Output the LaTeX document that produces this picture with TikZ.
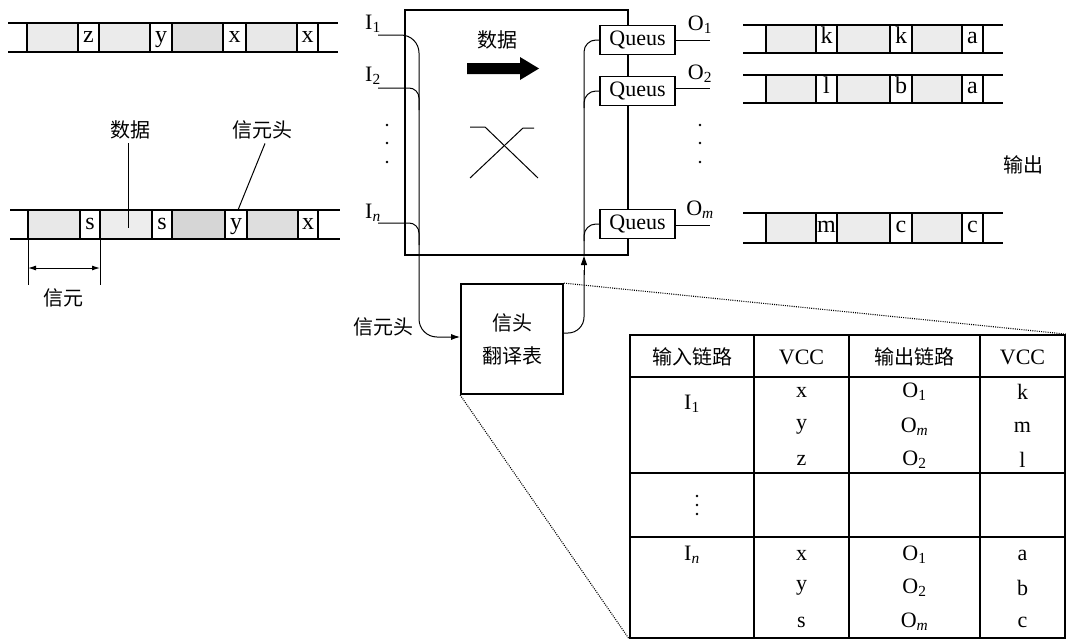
\documentclass[tikz,border=0pt]{standalone}
\usepackage{fontspec}
\setmainfont{Liberation Serif}
\newfontfamily\cjk{Noto Sans CJK SC}
\usetikzlibrary{arrows.meta}
\begin{document}
\begin{tikzpicture}[x=1pt,y=-1pt,
  every node/.style={inner sep=0pt, font=\fontsize{22}{26}\selectfont},
  rail/.style={line width=1.6pt},
  cellbox/.style={draw, line width=1.2pt},
  hcell/.style={cellbox, fill=white, minimum height=29pt, text height=13pt, text depth=4pt, font=\fontsize{24}{26}\selectfont},
  zh/.style={font=\cjk\fontsize{20}{24}\selectfont},
  conn/.style={line width=1pt},
  qbox/.style={draw, fill=white, line width=1.6pt, minimum width=75pt, minimum height=29pt},
  tline/.style={line width=1.5pt},
  dotline/.style={line width=1.1pt, dash pattern=on 1pt off 1.2pt},
  tip/.style={-{Latex[length=9pt,width=6pt]}}
]
\useasboundingbox (0,0) rectangle (1071,640);

% ---------- top-left strip ----------
\foreach \a/\b/\f in {27/78/gray!16,99/150/gray!16,172/223/gray!24,246/297/gray!18}
  \draw[cellbox, fill=\f] (\a,23) rectangle (\b,52);
\foreach \a/\b/\t [count=\i] in {78/99/z,150/172/y,223/246/x,297/318/x}
  \node[hcell, minimum width={(\b-\a)*1pt}] (tl\i) at ({(\a+\b)/2},37.5) {\t};
\draw[rail] (8,23) -- (338,23) (8,52) -- (338,52);

% ---------- bottom-left strip ----------
\foreach \a/\b/\f in {28/80/gray!18,100/152/gray!14,172/225/gray!32,247/298/gray!26}
  \draw[cellbox, fill=\f] (\a,210) rectangle (\b,239);
\foreach \a/\b/\t [count=\i] in {80/100/s,152/172/s,225/247/y,298/318/x}
  \node[hcell, minimum width={(\b-\a)*1pt}] (bl\i) at ({(\a+\b)/2},224.5) {\t};
\draw[rail] (10,210) -- (340,210) (10,239) -- (340,239);

\node[zh] (dlab) at (130,130) {数据};
\draw[conn] (dlab.south) ++(-2,4) coordinate (dtop) -- (128,228) coordinate (dend);
\node[zh] (hlab) at (262,130) {信元头};
\draw[conn] (hlab.south) ++(3,4) coordinate (htop) -- (238,210) coordinate (hend);

\coordinate (dimA) at (28,268);
\coordinate (dimB) at (100,268);
\draw[conn] (28,239) -- (28,285) (100,239) -- (100,285);
\draw[conn, {Latex[length=8pt,width=5pt]}-{Latex[length=8pt,width=5pt]}] (dimA) -- (dimB);
\node[zh] (cell) at (63,298) {信元};

% ---------- switch ----------
\node[draw, line width=2.2pt, minimum width=223pt, minimum height=245pt] (sw) at (516.5,132.5) {};
\node[zh] (data) at (497,40) {数据};
\fill (467,63) -- (520,63) -- (520,57) -- (539,68.5) -- (520,80) -- (520,74) -- (467,74) -- cycle;
\draw[conn] (470,127) -- (485,127) -- (538,178);
\draw[conn] (470,178) -- (523,128) -- (534,128);

% inputs
\node (i1l) at (373,24) {I\textsubscript{1}};
\node (i2l) at (373,76) {I\textsubscript{2}};
\node (inl) at (373,213) {I\textsubscript{\textit{n}}};
\coordinate (i1) at (378,35);
\coordinate (i2) at (378,88);
\coordinate (in) at (378,223);
\foreach \y in {125,143,162} \fill (387,\y) circle (1.4);

% translation table box
\node[draw, line width=1.8pt, minimum width=102pt, minimum height=110pt, align=center,
      font=\cjk\fontsize{20}{33}\selectfont] (tt) at (512,339) {信头\\翻译表};
\node[zh] (hdr) at (383,327) {信元头};

\draw[conn, rounded corners=10pt] (i2) -- (419,88) -- (419,110);
\draw[conn, rounded corners=10pt] (in) -- (419,223) -- (419,245);
\draw[conn, rounded corners=18pt, tip] (i1) -- (419,35) -- (419,337) -- ([yshift=2pt]tt.west);

% queues
\node[qbox] (q1) at (637.5,40) {Queus};
\node[qbox] (q2) at (637.5,91) {Queus};
\node[qbox] (q3) at (637.5,224) {Queus};

\coordinate (up) at (584,256);
\draw[conn, rounded corners=16pt] ([yshift=6pt]tt.east) -- (584,333) -- (584,270);
\draw[conn, -{Triangle[length=9pt,width=6pt]}] (584,275) -- (up);
\draw[conn, rounded corners=12pt] (584,256) -- (584,40) -- (q1.west);
\draw[conn, rounded corners=12pt] (584,108) -- (584,91) -- (q2.west);
\draw[conn, rounded corners=12pt] (584,241) -- (584,224) -- (q3.west);

% outputs
\coordinate (o1) at (710,40);
\coordinate (o2) at (710,88);
\coordinate (om) at (710,225);
\draw[conn] (q1.east) -- (o1);
\draw[conn] (q2.east |- o2) -- (o2);
\draw[conn] (q3.east |- om) -- (om);
\node (o1l) at (700,25) {O\textsubscript{1}};
\node (o2l) at (700,74) {O\textsubscript{2}};
\node (oml) at (700,210) {O\textsubscript{\textit{m}}};
\foreach \y in {125,143,162} \fill (700,\y) circle (1.4);

% ---------- right strips ----------
\foreach \yt/\yb/\ta/\tb/\tc/\nm in {25/53/k/k/a/ra,75/103/l/b/a/rb,213/243/m/c/c/rc}{
  \foreach \a/\b in {766/816,837/890,912/962}
    \draw[cellbox, fill=gray!15] (\a,\yt) rectangle (\b,\yb);
  \node[hcell, minimum width=21pt, minimum height={(\yb-\yt)*1pt}] (\nm1) at (826.5,{(\yt+\yb)/2}) {\ta};
  \node[hcell, minimum width=22pt, minimum height={(\yb-\yt)*1pt}] (\nm2) at (901,{(\yt+\yb)/2}) {\tb};
  \node[hcell, minimum width=21pt, minimum height={(\yb-\yt)*1pt}] (\nm3) at (972.5,{(\yt+\yb)/2}) {\tc};
  \draw[rail] (743,\yt) -- (1003,\yt) (743,\yb) -- (1003,\yb);
}
\node[zh] (outl) at (1023,165) {输出};

% ---------- table ----------
\node[draw, line width=1.8pt, minimum width=435pt, minimum height=303pt] (tbl) at (847.5,486.5) {};
\draw[tline] (630,377) -- (1065,377) (630,473) -- (1065,473) (630,537) -- (1065,537);
\draw[tline] (754,335) -- (754,638) (849,335) -- (849,638) (980,335) -- (980,638);
\node[zh] (h1) at (692,357) {输入链路};
\node (h2) at (801.5,357) {VCC};
\node[zh] (h3) at (914.5,357) {输出链路};
\node (h4) at (1022.5,357) {VCC};

\node (r1a) at (692,404) {I\textsubscript{1}};
\node (r1b) at (801.5,392) {x};
\node (r1c) at (914.5,392) {O\textsubscript{1}};
\node (r1d) at (1022.5,392) {k};
\node (r2b) at (801.5,427) {y};
\node (r2c) at (914.5,427) {O\textsubscript{\textit{m}}};
\node (r2d) at (1022.5,427) {m};
\node (r3b) at (801.5,460) {z};
\node (r3c) at (914.5,460) {O\textsubscript{2}};
\node (r3d) at (1022.5,460) {l};
\foreach \y in {496,505,514} \fill (697,\y) circle (1.3);
\node (r4a) at (692,555) {I\textsubscript{\textit{n}}};
\node (r4b) at (801.5,555) {x};
\node (r4c) at (914.5,555) {O\textsubscript{1}};
\node (r4d) at (1022.5,555) {a};
\node (r5b) at (801.5,588) {y};
\node (r5c) at (914.5,588) {O\textsubscript{2}};
\node (r5d) at (1022.5,588) {b};
\node (r6b) at (801.5,622) {s};
\node (r6c) at (914.5,622) {O\textsubscript{\textit{m}}};
\node (r6d) at (1022.5,622) {c};

\draw[dotline] (tt.north east) -- (tbl.north east);
\draw[dotline] (tt.south west) -- (tbl.south west);
\end{tikzpicture}
\end{document}
